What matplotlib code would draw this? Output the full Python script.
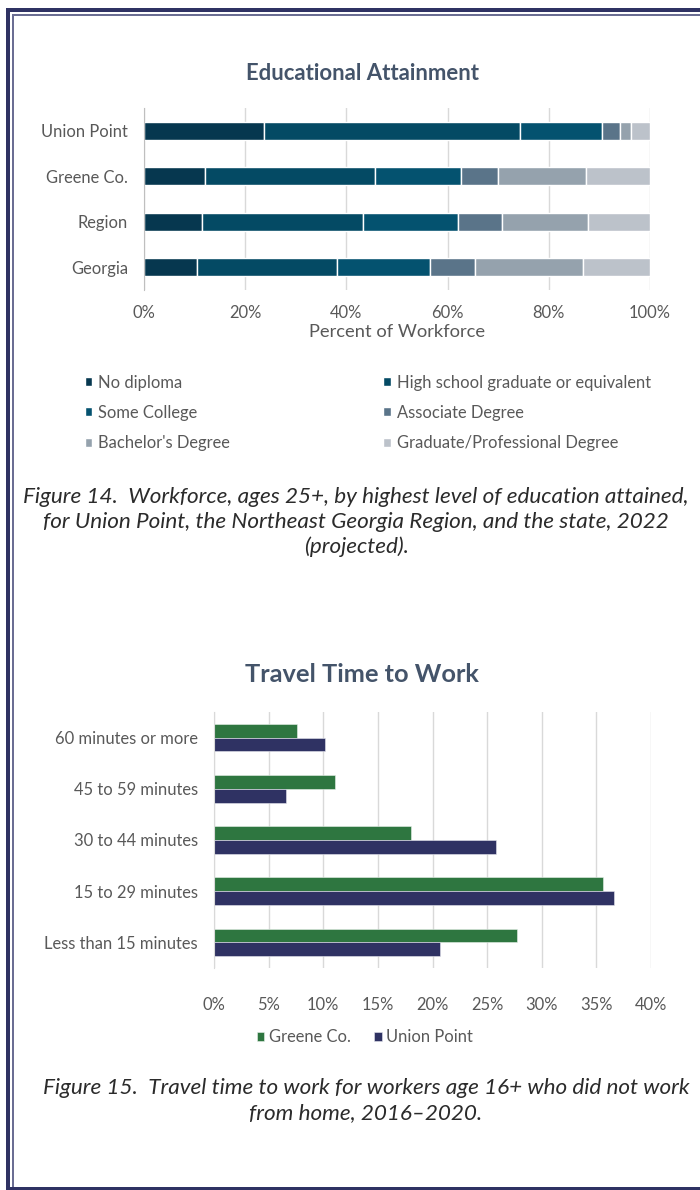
"""Education attainment and travel time charts, Union Point report page."""

import matplotlib
matplotlib.use("Agg")
import matplotlib.pyplot as plt
import matplotlib.ticker as mticker
from matplotlib.patches import Rectangle
import numpy as np

plt.rcParams["font.family"] = ["Lato", "DejaVu Sans"]

# --- data -----------------------------------------------------------------
places = ["Union Point", "Greene Co.", "Region", "Georgia"]
edu_levels = [
    "No diploma",
    "High school graduate or equivalent",
    "Some College",
    "Associate Degree",
    "Bachelor's Degree",
    "Graduate/Professional Degree",
]
edu_share = {
    "Union Point": [23.7, 50.7, 16.1, 3.6, 2.2, 3.7],
    "Greene Co.": [12.1, 33.5, 17.1, 7.2, 17.5, 12.6],
    "Region": [11.4, 31.9, 18.7, 8.8, 17.0, 12.2],
    "Georgia": [10.4, 27.8, 18.3, 8.9, 21.3, 13.3],
}
edu_colors = ["#06374f", "#044a64", "#04526f", "#5a7489", "#95a2ad", "#bcc2ca"]

commute_bins = [
    "60 minutes or more",
    "45 to 59 minutes",
    "30 to 44 minutes",
    "15 to 29 minutes",
    "Less than 15 minutes",
]
greene_commute = [7.6, 11.1, 18.0, 35.6, 27.7]
union_commute = [10.2, 6.6, 25.8, 36.6, 20.7]

TEXT = "#595959"
TITLE = "#44546a"
GRID = "#d9d9d9"
NAVY = "#2f3263"
CAPTION = "#2b2b2b"

fig = plt.figure(figsize=(7.0, 11.9), dpi=100)
H = 1190.0
W = 700.0


def fy(px):
    return 1 - px / H


# --- page frame -----------------------------------------------------------
frame = [
    (6, 8, 4, 1182, NAVY),         # left outer
    (6, 8, 694, 4, NAVY),          # top outer
    (12, 14, 2, 1176, "#6b6e93"),  # left inner
    (12, 14, 688, 2, "#6b6e93"),   # top inner
    (6, 1187, 694, 3, NAVY),       # bottom
]
for x, y, w, h, c in frame:
    fig.add_artist(Rectangle((x / W, fy(y + h)), w / W, h / H,
                             transform=fig.transFigure, color=c, lw=0))

# --- figure 14: educational attainment ------------------------------------
ax1 = fig.add_axes([144 / W, fy(290), 506 / W, 182 / H])
ypos = np.arange(len(places))
left = np.zeros(len(places))
handles = []
for i, lvl in enumerate(edu_levels):
    vals = np.array([edu_share[p][i] for p in places])
    b = ax1.barh(ypos, vals, left=left, height=0.4, color=edu_colors[i],
                 edgecolor="white", linewidth=1.0, label=lvl)
    handles.append(b)
    left += vals

ax1.set_xlim(0, 100)
ax1.set_ylim(len(places) - 0.5, -0.5)
ax1.set_yticks(ypos, places)
ax1.xaxis.set_major_locator(mticker.MultipleLocator(20))
ax1.xaxis.set_major_formatter(mticker.FuncFormatter(lambda v, _: f"{v:.0f}%"))
ax1.grid(axis="x", color=GRID, lw=1)
ax1.set_axisbelow(True)
for s in ["top", "right", "bottom"]:
    ax1.spines[s].set_visible(False)
ax1.spines["left"].set_color("#bfbfbf")
ax1.tick_params(length=0, labelsize=11.9, labelcolor=TEXT)
ax1.tick_params(axis="x", pad=11)
ax1.tick_params(axis="y", pad=11.5)
ax1.set_xlabel("Percent of Workforce", fontsize=13.2, color=TEXT, labelpad=2)
fig.text(362 / W, fy(74), "Educational Attainment", ha="center", va="center",
         fontsize=15.9, fontweight="bold", color=TITLE)

order = [0, 2, 4, 1, 3, 5]
fig.legend([handles[k] for k in order], [edu_levels[k] for k in order],
           ncol=2, loc="upper left", bbox_to_anchor=(78 / W, fy(368)),
           frameon=False, fontsize=11.9, labelcolor=TEXT,
           handlelength=0.45, handleheight=0.45, handletextpad=0.35,
           columnspacing=9.3, labelspacing=0.86, borderaxespad=0)

fig.text(356 / W, fy(522),
         "Figure 14.  Workforce, ages 25+, by highest level of education attained,\n"
         "for Union Point, the Northeast Georgia Region, and the state, 2022\n"
         "(projected).",
         ha="center", va="center", fontsize=16.2, style="italic", color=CAPTION,
         linespacing=1.3)

# --- figure 15: travel time to work ---------------------------------------
ax2 = fig.add_axes([214 / W, fy(968), 437 / W, 256 / H])
cpos = np.arange(len(commute_bins))
bh = 0.27
g = ax2.barh(cpos - bh / 2, greene_commute, height=bh, color="#2e7640",
             edgecolor="#e8f0ea", linewidth=0.4, label="Greene Co.")
u = ax2.barh(cpos + bh / 2, union_commute, height=bh, color=NAVY,
             edgecolor="#e6e6ee", linewidth=0.4, label="Union Point")
ax2.set_xlim(0, 40)
ax2.set_ylim(len(commute_bins) - 0.5, -0.5)
ax2.set_yticks(cpos, commute_bins)
ax2.xaxis.set_major_locator(mticker.MultipleLocator(5))
ax2.xaxis.set_major_formatter(mticker.FuncFormatter(lambda v, _: f"{v:.0f}%"))
ax2.grid(axis="x", color=GRID, lw=1)
ax2.set_axisbelow(True)
for s in ["top", "right", "bottom"]:
    ax2.spines[s].set_visible(False)
ax2.spines["left"].set_color(GRID)
ax2.tick_params(length=0, labelsize=11.9, labelcolor=TEXT)
ax2.tick_params(axis="x", pad=21)
ax2.tick_params(axis="y", pad=11.5)
fig.text(362 / W, fy(675), "Travel Time to Work", ha="center", va="center",
         fontsize=18.3, fontweight="bold", color=TITLE)

fig.legend([g, u], ["Greene Co.", "Union Point"], ncol=2, loc="center",
           bbox_to_anchor=(365 / W, fy(1037)), frameon=False, fontsize=11.9,
           labelcolor=TEXT, handlelength=0.45, handleheight=0.45,
           handletextpad=0.3, columnspacing=1.4, borderaxespad=0)

fig.text(366 / W, fy(1100.5),
         "Figure 15.  Travel time to work for workers age 16+ who did not work\n"
         "from home, 2016\u20132020.",
         ha="center", va="center", fontsize=16.2, style="italic", color=CAPTION,
         linespacing=1.3)

fig.savefig("out.png", dpi=100)
plt.close(fig)
